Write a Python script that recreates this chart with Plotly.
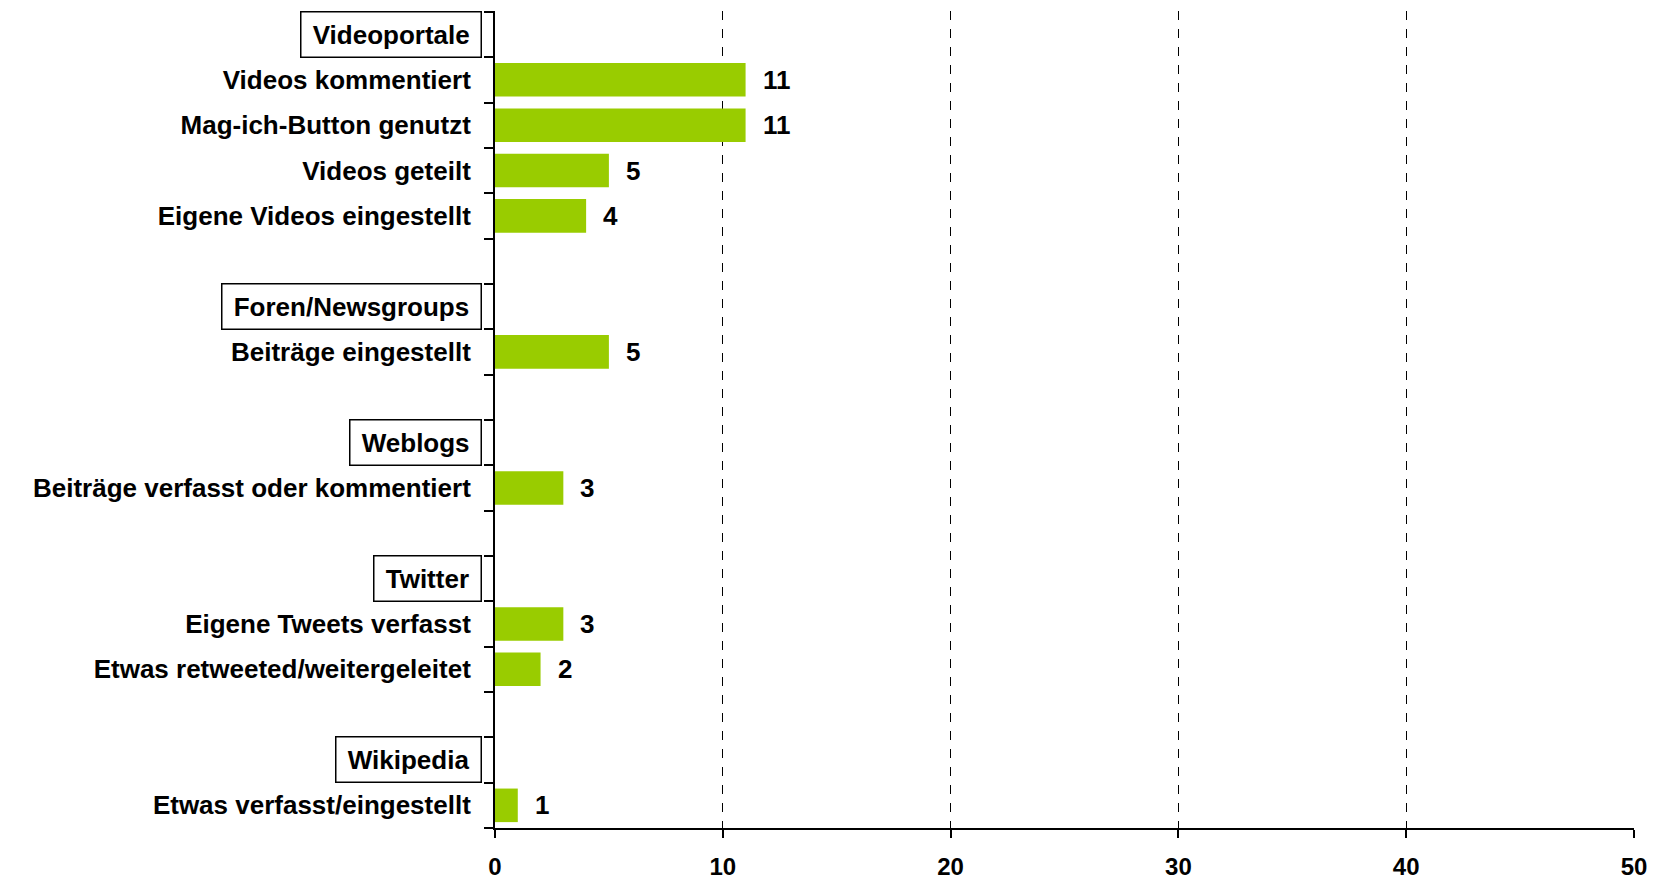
import plotly.graph_objects as go

# rows from top to bottom; headers are drawn as boxed labels, blanks are spacer rows
row_labels = [
    "Videoportale",
    "Videos kommentiert",
    "Mag-ich-Button genutzt",
    "Videos geteilt",
    "Eigene Videos eingestellt",
    "",
    "Foren/Newsgroups",
    "Beiträge eingestellt",
    "",
    "Weblogs",
    "Beiträge verfasst oder kommentiert",
    "",
    "Twitter",
    "Eigene Tweets verfasst",
    "Etwas retweeted/weitergeleitet",
    "",
    "Wikipedia",
    "Etwas verfasst/eingestellt",
]
row_values = [None, 11, 11, 5, 4, None, None, 5, None, None, 3, None, None, 3, 2, None, None, 1]
headers = ["Videoportale", "Foren/Newsgroups", "Weblogs", "Twitter", "Wikipedia"]

x_ticks = [0, 10, 20, 30, 40, 50]

FONT = "Arial, Liberation Sans, sans-serif"
GREEN = "#99cc00"
FS = 26

row_keys = [f"r{i}" for i in range(len(row_labels))]
tick_text = ["" if (lab in headers or lab == "") else lab for lab in row_labels]

bar_y = [k for k, v in zip(row_keys, row_values) if v is not None]
bar_x = [v for v in row_values if v is not None]

fig = go.Figure()
fig.add_trace(
    go.Bar(
        x=bar_x,
        y=bar_y,
        orientation="h",
        marker=dict(color=GREEN, line=dict(width=0)),
        width=0.74,
        hoverinfo="x",
    )
)

# value labels
for k, v in zip(bar_y, bar_x):
    fig.add_annotation(
        x=v, y=k, text=str(v), showarrow=False, xanchor="left", xshift=15,
        font=dict(family=FONT, size=FS, color="black", weight="bold"),
    )

# boxed group headers
for k, lab in zip(row_keys, row_labels):
    if lab in headers:
        fig.add_annotation(
            x=0, xref="paper", y=k, text="\u00a0" + lab + "\u00a0", showarrow=False,
            xanchor="right", xshift=-13,
            font=dict(family=FONT, size=FS, color="black", weight="bold"),
            bordercolor="black", borderwidth=1.5, borderpad=4,
            height=36, align="right",
        )

fig.update_layout(
    width=1655,
    height=874,
    margin=dict(l=487, r=29, t=3, b=54),
    plot_bgcolor="white",
    paper_bgcolor="white",
    showlegend=False,
    bargap=0.26,
    xaxis=dict(
        range=[0, 50],
        tickvals=x_ticks,
        automargin=False,
        showgrid=True,
        gridcolor="black",
        gridwidth=1,
        griddash="dash",
        zeroline=False,
        showline=True,
        linecolor="black",
        linewidth=2,
        ticks="outside",
        ticklen=8,
        tickwidth=2,
        tickcolor="black",
        ticklabelstandoff=8,
        tickfont=dict(family=FONT, size=24, color="black", weight="bold"),
    ),
    yaxis=dict(
        type="category",
        categoryorder="array",
        categoryarray=row_keys,
        tickmode="array",
        tickvals=row_keys,
        ticktext=tick_text,
        autorange="reversed",
        automargin=False,
        tickson="boundaries",
        showgrid=False,
        showline=True,
        linecolor="black",
        linewidth=2,
        ticks="outside",
        ticklen=9,
        tickwidth=2,
        tickcolor="black",
        ticklabelstandoff=17,
        tickfont=dict(family=FONT, size=FS, color="black", weight="bold"),
    ),
)

fig.write_html("out.html")
